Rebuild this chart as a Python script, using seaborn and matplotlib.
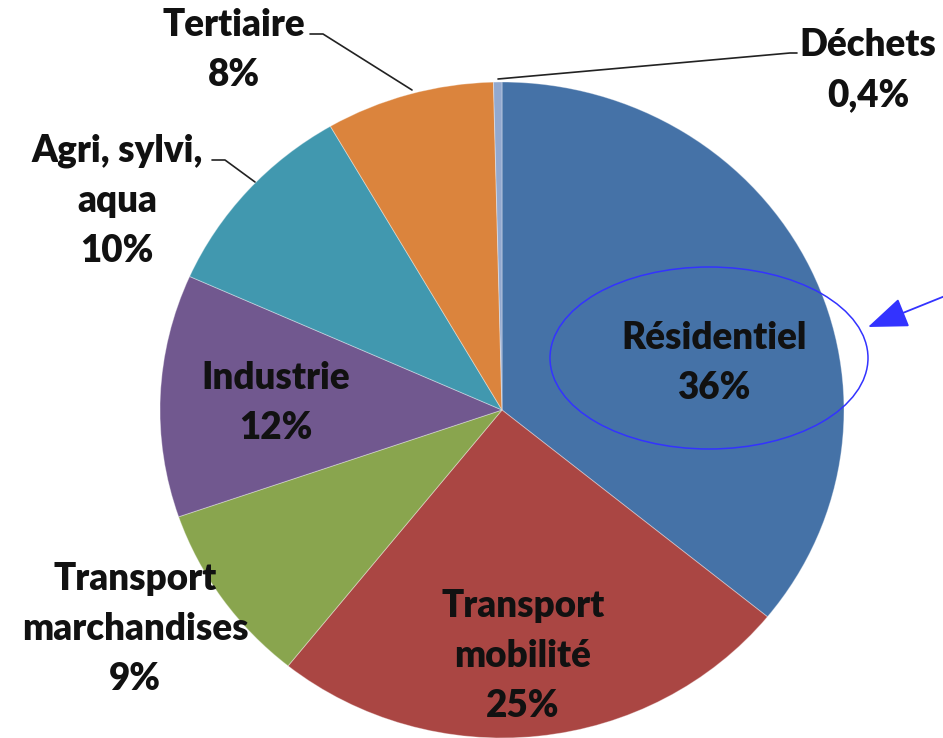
import numpy as np
import matplotlib
matplotlib.use("Agg")
import matplotlib.pyplot as plt
import seaborn as sns
from matplotlib.patches import Ellipse

# -------------------------------------------------------------------------
# Data
# -------------------------------------------------------------------------
sectors = ["Résidentiel", "Transport\nmobilité", "Transport\nmarchandises",
           "Industrie", "Agri, sylvi,\naqua", "Tertiaire", "Déchets"]
shares = [36, 25, 9, 12, 10, 8, 0.4]
hex_colors = ["#4572A7", "#AA4643", "#89A54E", "#71588F",
              "#4198AF", "#DB843D", "#93A9CF"]

# label block centres in pixel coords (x, y from top)
label_pos = [(714, 363), (523, 656), (135, 629), (276, 403),
             (117, 201), (234, 50), (868, 70)]

sns.set_theme(style="white")
plt.rcParams['font.family'] = ['Lato', 'DejaVu Sans']

W, H = 943, 738
fig = plt.figure(figsize=(W / 100, H / 100), dpi=100)
fig.patch.set_facecolor("white")

# pie sits in its own axes, slightly wider than tall (as in the source image)
cx, cy, rx, ry = 502, 410, 342, 328
ax_pie = fig.add_axes([(cx - rx) / W, (H - cy - ry) / H, 2 * rx / W, 2 * ry / H])
palette = sns.color_palette(hex_colors)
ax_pie.pie(shares, colors=palette, startangle=90, counterclock=False,
           wedgeprops=dict(edgecolor=(1, 1, 1, 0.35), linewidth=0.7))
ax_pie.set_aspect("auto")
ax_pie.set_xlim(-1, 1)
ax_pie.set_ylim(-1, 1)
ax_pie.axis("off")

# overlay axes in pixel units for labels and annotations
ax = fig.add_axes([0, 0, 1, 1])
ax.set_xlim(0, W)
ax.set_ylim(H, 0)
ax.axis("off")
ax.patch.set_alpha(0)

for name, val, (x, y) in zip(sectors, shares, label_pos):
    pct = f"{val:g}%".replace(".", ",")
    ax.text(x, y, f"{name}\n{pct}", ha="center", va="center",
            fontsize=26.5, fontweight="heavy", color="#111111",
            linespacing=1.58)

# leader lines
ax.plot([310, 323, 412], [34, 34, 90], color="#222222", lw=1.2)
ax.plot([498, 790, 797], [79, 53, 53], color="#222222", lw=1.2)
ax.plot([212, 225, 255], [160, 160, 182], color="#222222", lw=1.2)

# highlight on Résidentiel
ax.add_patch(Ellipse((709, 358), 318, 182, fill=False, edgecolor="#3333FF", lw=1.1))
ax.annotate("", xy=(868, 327), xytext=(945, 296),
            arrowprops=dict(arrowstyle="-|>,head_length=2.1,head_width=0.8",
                            color="#3333FF", lw=1.3, shrinkA=0, shrinkB=0))

fig.savefig("out.png", dpi=100, facecolor="white")
